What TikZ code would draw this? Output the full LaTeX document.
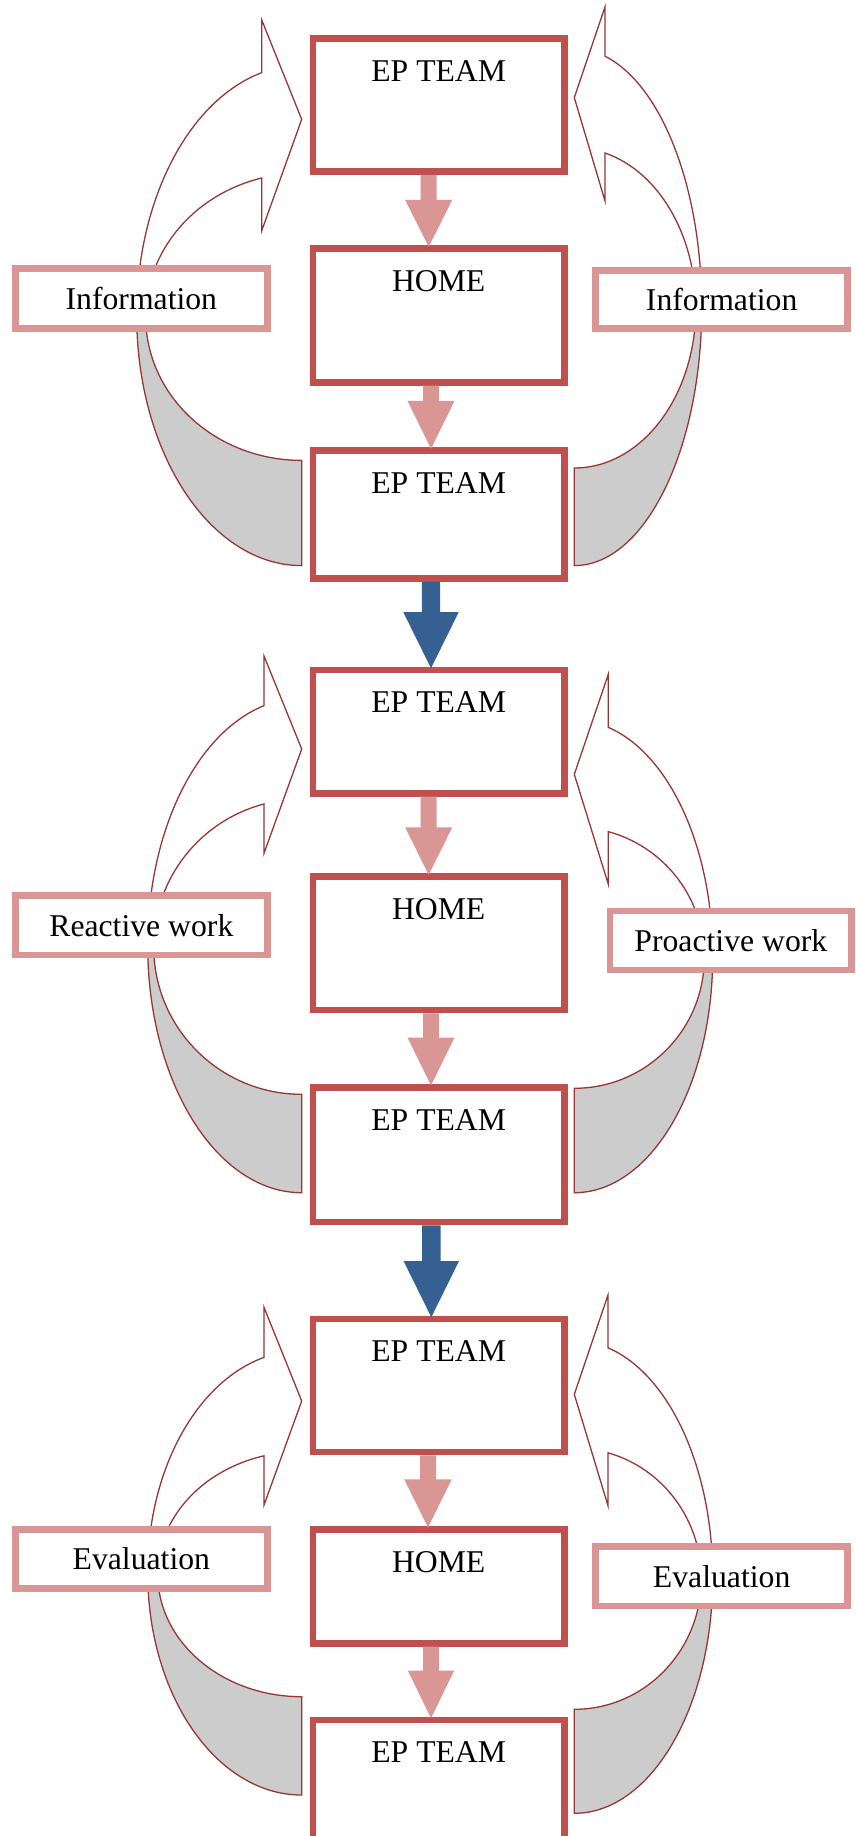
\documentclass[tikz,border=0pt]{standalone}
\usepackage{fontspec}
\setmainfont{Liberation Serif}
\usetikzlibrary{calc}
\definecolor{mainred}{HTML}{C0504D}
\definecolor{pinkc}{HTML}{D99694}
\definecolor{bluec}{HTML}{376092}
\definecolor{curvec}{HTML}{953735}
\definecolor{grayc}{HTML}{CCCCCC}
\tikzset{
  mainbox/.style={draw=mainred, line width=6.6pt, fill=white, minimum width=251.8pt, inner sep=0pt},
  infobox/.style={draw=pinkc, line width=6.6pt, fill=white, inner sep=0pt,
    font=\fontsize{31.7pt}{38pt}\selectfont},
  boxtext/.style={anchor=base, inner sep=0pt, font=\fontsize{31.7pt}{38pt}\selectfont},
  grayband/.style={fill=grayc, draw=curvec, line width=1.3pt},
  whiteband/.style={fill=white, draw=curvec, line width=1.3pt},
}
\newcommand\SetArrow[9]{\def\aCx{#1}\def\aCyo{#2}\def\aRxo{#3}\def\aRyo{#4}\def\aCyi{#5}\def\aRxi{#6}\def\aRyi{#7}\def\aBx{#8}\def\aTy{#9}}
\newcommand\LeftCurved[2]{%
  \pgfmathsetmacro\aTho{acos((\aBx-\aCx)/\aRxo)}%
  \pgfmathsetmacro\aThi{acos((\aBx-\aCx)/\aRxi)}%
  \pgfmathsetmacro\aYsi{\aCyi-\aRyi*sin(\aThi)}%
  \draw[grayband] (\aCx,{\aCyi+\aRyi}) arc[start angle=270,end angle=180,x radius=\aRxi pt,y radius=\aRyi pt]
     -- ({\aCx-\aRxo},\aCyo) arc[start angle=180,end angle=270,x radius=\aRxo pt,y radius=\aRyo pt] -- cycle;
  \draw[whiteband] ({\aCx-\aRxo},\aCyo) arc[start angle=180,end angle=\aTho,x radius=\aRxo pt,y radius=\aRyo pt]
     -- (\aBx,#1) -- (\aCx,\aTy) -- (\aBx,#2) -- (\aBx,\aYsi)
     arc[start angle=\aThi,end angle=180,x radius=\aRxi pt,y radius=\aRyi pt] -- cycle;
}
\newcommand\RightCurved[2]{%
  \pgfmathsetmacro\aTho{acos((\aBx-\aCx)/\aRxo)}%
  \pgfmathsetmacro\aThi{acos((\aBx-\aCx)/\aRxi)}%
  \pgfmathsetmacro\aYsi{\aCyi-\aRyi*sin(\aThi)}%
  \draw[grayband] (\aCx,{\aCyi+\aRyi}) arc[start angle=270,end angle=360,x radius=\aRxi pt,y radius=\aRyi pt]
     -- ({\aCx+\aRxo},\aCyo) arc[start angle=360,end angle=270,x radius=\aRxo pt,y radius=\aRyo pt] -- cycle;
  \draw[whiteband] ({\aCx+\aRxo},\aCyo) arc[start angle=0,end angle=\aTho,x radius=\aRxo pt,y radius=\aRyo pt]
     -- (\aBx,#1) -- (\aCx,\aTy) -- (\aBx,#2) -- (\aBx,\aYsi)
     arc[start angle=\aThi,end angle=0,x radius=\aRxi pt,y radius=\aRyi pt] -- cycle;
}
\newcommand\BlockArrow[7]{%
  \fill[#1] let \p1=(#3.south), \p2=(#4.north) in
    ({(#2-#5)*1pt},\y1) -- ({(#2+#5)*1pt},\y1) -- ({(#2+#5)*1pt},{\y2+#7pt})
    -- ({(#2+#6)*1pt},{\y2+#7pt}) -- ({#2*1pt},{\y2-1.5pt}) -- ({(#2-#6)*1pt},{\y2+#7pt})
    -- ({(#2-#5)*1pt},{\y2+#7pt}) -- cycle;}
\begin{document}
\begin{tikzpicture}[x=1pt,y=-1pt]
\useasboundingbox (0,0) rectangle (855,1836);
\fill[white] (0,0) rectangle (855,1836);
\clip (0,0) rectangle (855,1836);

% curved arrows
\SetArrow{301.7}{315.4}{165}{250.2}{316.8}{156}{143.6}{261.7}{119.4}\LeftCurved{19.9}{230.8}
\SetArrow{574.3}{307.1}{127.4}{258.5}{307.9}{121.5}{160.1}{605}{97.6}\RightCurved{6.9}{201}
\SetArrow{301.7}{945.4}{154}{247.3}{946.7}{148}{147.6}{264}{749}\LeftCurved{656}{853.3}
\SetArrow{574.3}{956.4}{138.4}{236.3}{957.7}{130}{130.6}{608.3}{774.3}\RightCurved{674.3}{884.3}
\SetArrow{301.7}{1572.8}{154}{222.2}{1574.1}{144}{122.6}{264}{1401}\LeftCurved{1307.3}{1505}
\SetArrow{574.3}{1577}{138.4}{236.3}{1578.7}{127}{130.6}{608}{1394.3}\RightCurved{1295}{1505.7}

% main boxes
\node[mainbox, minimum height=133pt]   (A1) at (438.7,105.25) {};
\node[mainbox, minimum height=133.8pt] (H1) at (438.7,315.5) {};
\node[mainbox, minimum height=127.8pt] (B1) at (438.7,514.5) {};
\node[mainbox, minimum height=123.4pt] (A2) at (438.7,731.7) {};
\node[mainbox, minimum height=133.4pt] (H2) at (438.7,943.3) {};
\node[mainbox, minimum height=134.7pt] (B2) at (438.7,1154.65) {};
\node[mainbox, minimum height=133pt]   (A3) at (438.7,1385.5) {};
\node[mainbox, minimum height=114.1pt] (H3) at (438.7,1586.35) {};
\node[mainbox, minimum height=119.7pt] (B3) at (438.7,1779.85) {};

\node[boxtext] (tA1) at ([yshift=-46pt]A1.north) {EP TEAM};
\node[boxtext] (tH1) at ([yshift=-46pt]H1.north) {HOME};
\node[boxtext] (tB1) at ([yshift=-46pt]B1.north) {EP TEAM};
\node[boxtext] (tA2) at ([yshift=-46pt]A2.north) {EP TEAM};
\node[boxtext] (tH2) at ([yshift=-46pt]H2.north) {HOME};
\node[boxtext] (tB2) at ([yshift=-46pt]B2.north) {EP TEAM};
\node[boxtext] (tA3) at ([yshift=-46pt]A3.north) {EP TEAM};
\node[boxtext] (tH3) at ([yshift=-46pt]H3.north) {HOME};
\node[boxtext] (tB3) at ([yshift=-46pt]B3.north) {EP TEAM};

% side boxes
\node[infobox, minimum width=252.1pt, minimum height=59.9pt] (iL1) at (141.35,298.25) {Information};
\node[infobox, minimum width=252.1pt, minimum height=58.4pt] (iR1) at (721.65,299.5) {Information};
\node[infobox, minimum width=252.1pt, minimum height=59.4pt] (iL2) at (141.35,925.3) {Reactive work};
\node[infobox, minimum width=241.7pt, minimum height=59pt]   (iR2) at (730.85,940.5) {Proactive work};
\node[infobox, minimum width=252.1pt, minimum height=59.1pt] (iL3) at (141.35,1558.85) {Evaluation};
\node[infobox, minimum width=252.1pt, minimum height=59.4pt] (iR3) at (721.65,1576.3) {Evaluation};

% block arrows
\BlockArrow{pinkc}{428.7}{A1}{H1}{8}{23.6}{45.5}
\BlockArrow{pinkc}{431}{H1}{B1}{7.9}{23.5}{46.5}
\BlockArrow{bluec}{431}{B1}{A2}{9.2}{27.7}{54.5}
\BlockArrow{pinkc}{428.7}{A2}{H2}{8}{23.6}{46}
\BlockArrow{pinkc}{431}{H2}{B2}{7.9}{23.5}{46.5}
\BlockArrow{bluec}{431.3}{B2}{A3}{9.2}{27.7}{54.6}
\BlockArrow{pinkc}{428}{A3}{H3}{8}{23.7}{46.6}
\BlockArrow{pinkc}{431}{H3}{B3}{7.9}{23.2}{46.2}
\end{tikzpicture}
\end{document}
